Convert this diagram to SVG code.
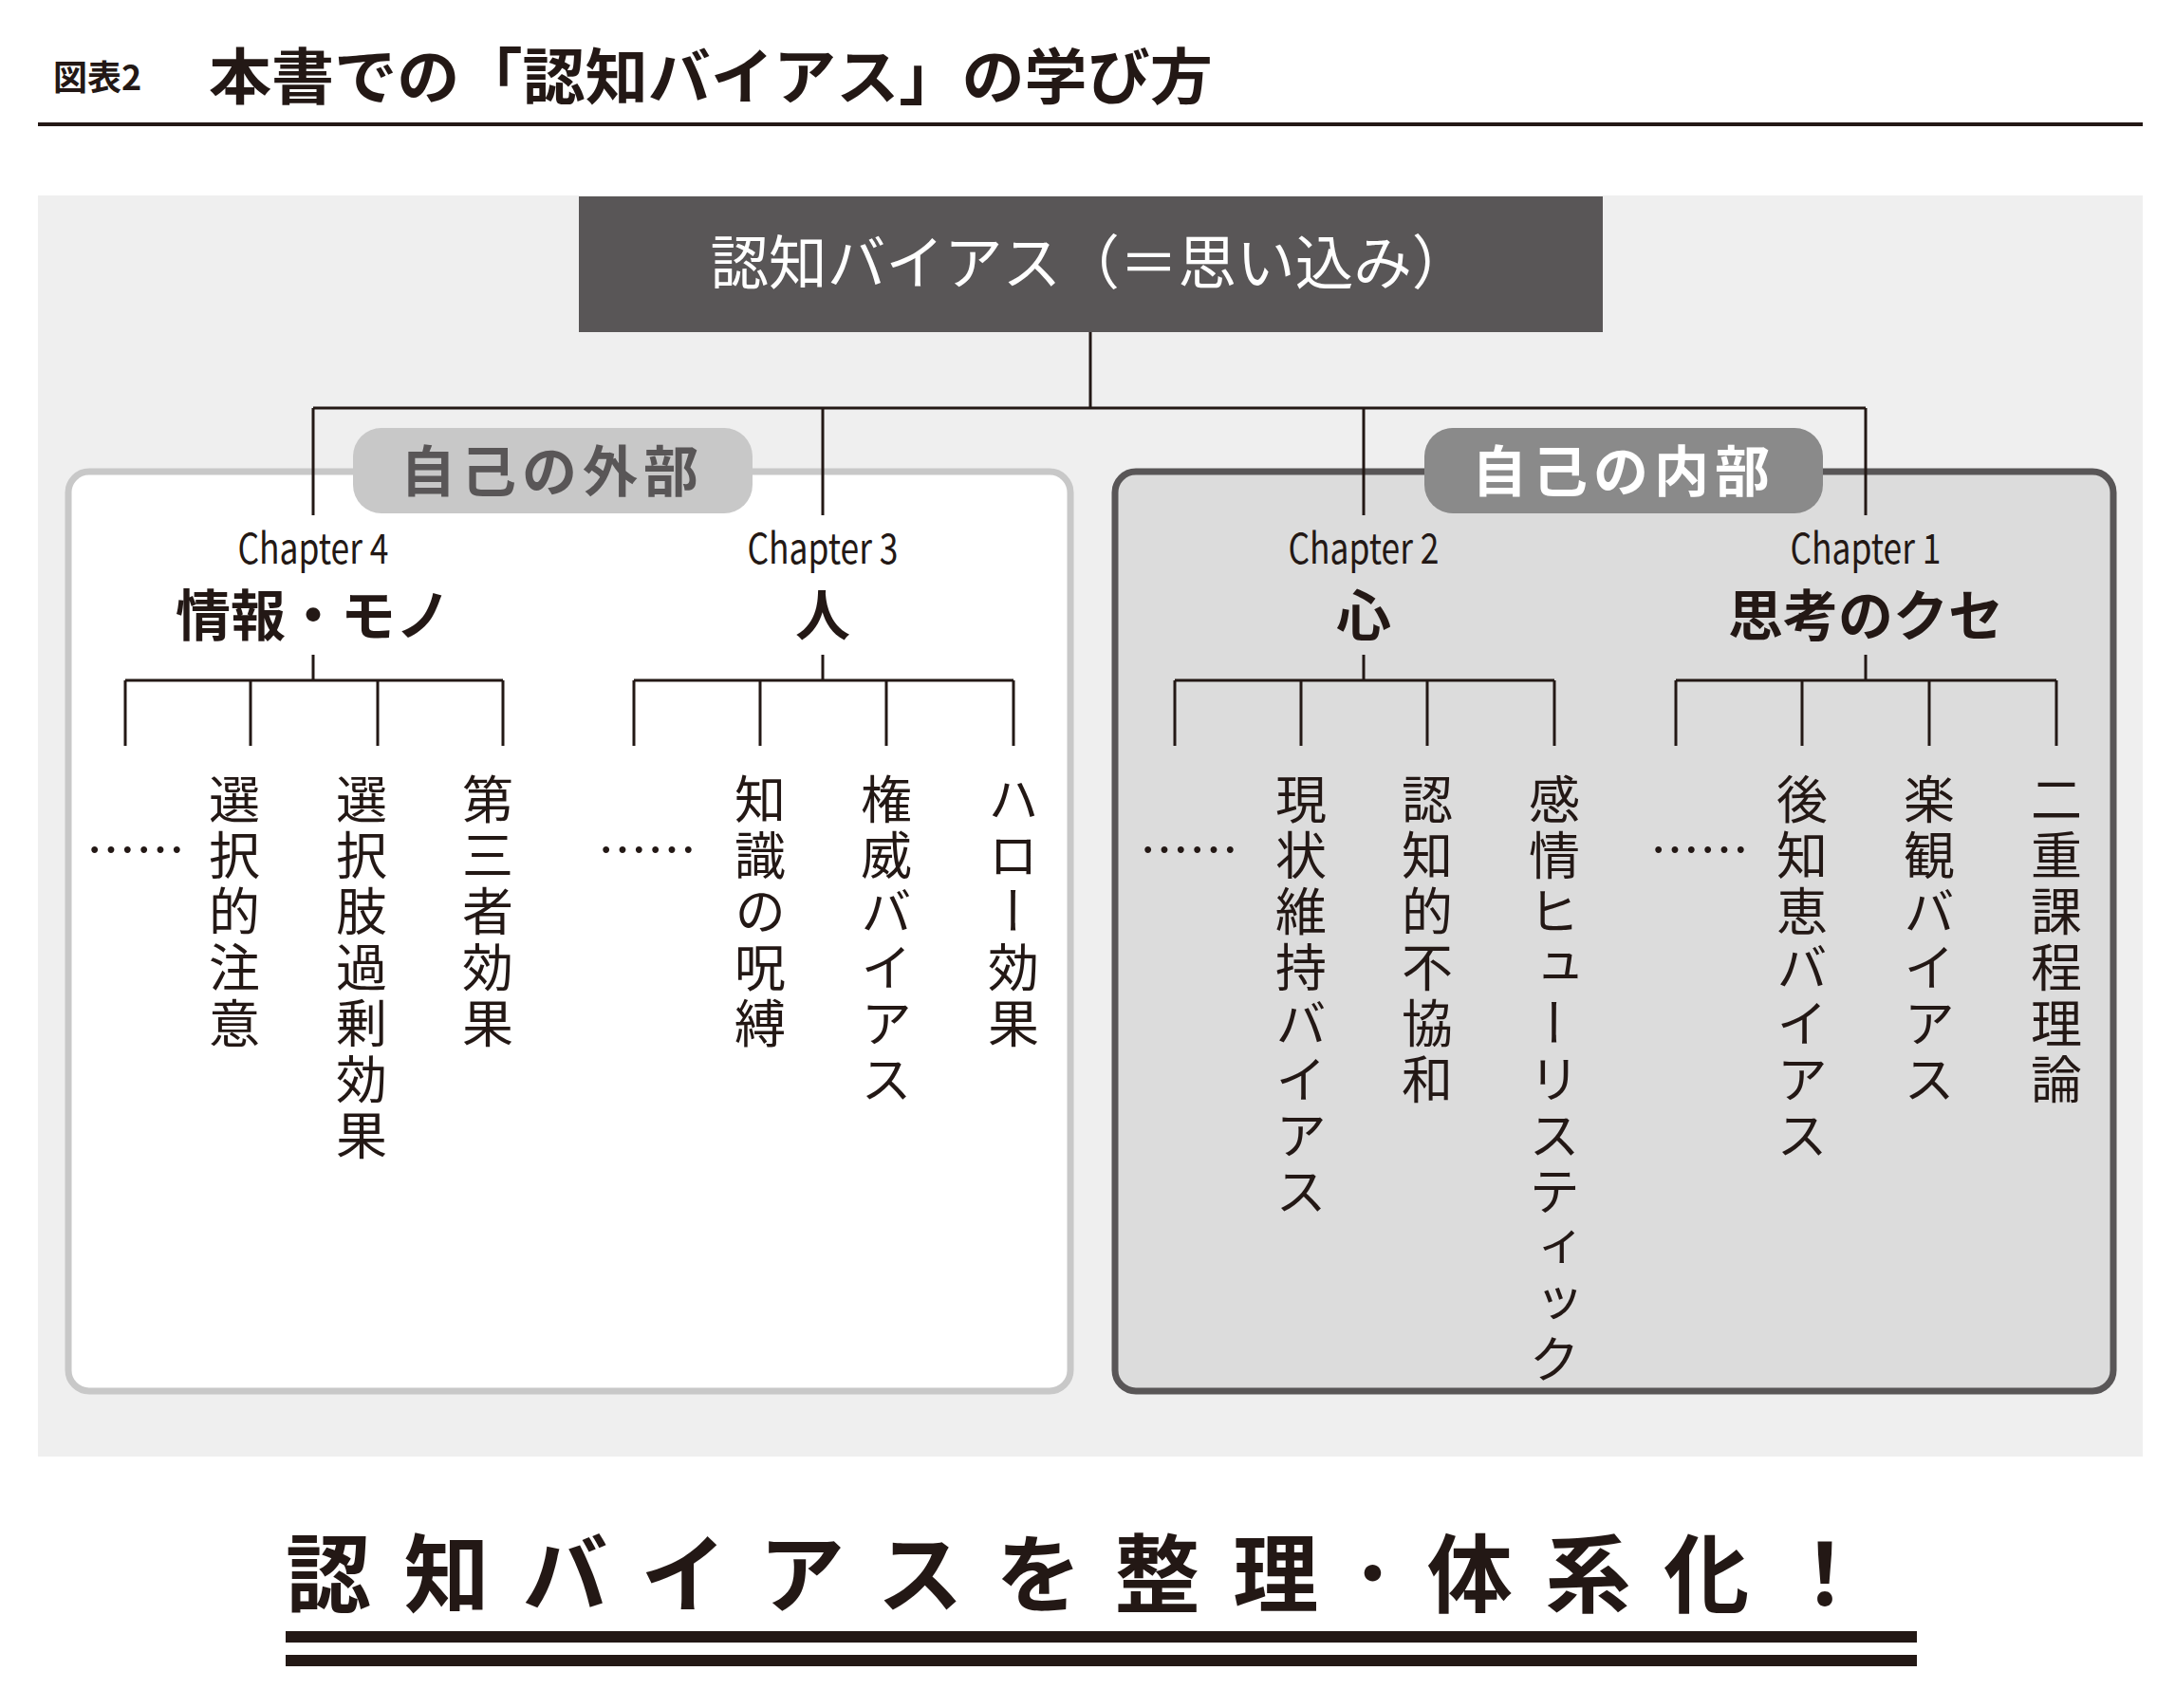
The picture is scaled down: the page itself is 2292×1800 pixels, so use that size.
<svg xmlns="http://www.w3.org/2000/svg" width="2292" height="1800" viewBox="0 0 2292 1800">
<style>
text{font-family:"Noto Sans CJK JP","Liberation Sans",sans-serif;fill:#231815}
.ln{stroke:#231815;stroke-width:3;fill:none}
.ch{font-size:44px;text-anchor:middle}
.cat{font-size:58px;font-weight:bold;text-anchor:middle}
.v{font-size:54px;writing-mode:vertical-rl;letter-spacing:5px}
.dots{font-size:52px;text-anchor:middle}
</style>
<rect width="2292" height="1800" fill="#fff"/>
<text x="56" y="95" font-size="36" font-weight="bold">図表2</text>
<text x="220" y="104" font-size="64" font-weight="bold" textLength="1058" lengthAdjust="spacingAndGlyphs">本書での「認知バイアス」の学び方</text>
<rect x="40" y="129" width="2218" height="4" fill="#231815"/>
<rect x="40" y="206" width="2218" height="1329" fill="#efefef"/>
<g id="root"><rect x="610" y="207" width="1079" height="143" fill="#595657"/>
<text x="1149" y="300" font-size="62" text-anchor="middle" style="fill:#fff" textLength="801" lengthAdjust="spacingAndGlyphs">認知バイアス（＝思い込み）</text></g>
<g id="outer"><rect x="72" y="497" width="1056" height="969" rx="22" fill="#fff" stroke="#c8c8c8" stroke-width="7"/>
<rect x="372" y="451" width="421" height="90" rx="30" fill="#c8c8c8"/>
<text x="582" y="518" font-size="58" font-weight="bold" text-anchor="middle" style="fill:#595657" letter-spacing="6">自己の外部</text></g>
<g id="inner"><rect x="1175" y="497" width="1052" height="969" rx="22" fill="#dcdcdc" stroke="#595657" stroke-width="7"/>
<rect x="1501" y="451" width="420" height="90" rx="30" fill="#8a8a8a"/>
<text x="1711" y="518" font-size="58" font-weight="bold" text-anchor="middle" style="fill:#fff" letter-spacing="6">自己の内部</text></g>
<g id="connectors">
<path class="ln" d="M1149 350V430M330 430H1966M330 430V543M867 430V543M1437 430V543M1966 430V543"/>
<path class="ln" d="M330 690V717M132 717H530M132 717V786M264 717V786M398 717V786M530 717V786"/>
<path class="ln" d="M867 690V717M668 717H1068M668 717V786M801 717V786M934 717V786M1068 717V786"/>
<path class="ln" d="M1437 690V717M1238 717H1638M1238 717V786M1371 717V786M1504 717V786M1638 717V786"/>
<path class="ln" d="M1966 690V717M1766 717H2167M1766 717V786M1899 717V786M2033 717V786M2167 717V786"/>
</g>
<g id="ch4"><text class="ch" x="330" y="594" textLength="159" lengthAdjust="spacingAndGlyphs">Chapter 4</text><text class="cat" x="330" y="670">情報・モノ</text>
<text class="dots" x="143" y="915">……</text>
<text class="v" x="247" y="815">選択的注意</text><text class="v" x="381" y="815">選択肢過剰効果</text><text class="v" x="514" y="815">第三者効果</text></g>
<g id="ch3"><text class="ch" x="867" y="594" textLength="159" lengthAdjust="spacingAndGlyphs">Chapter 3</text><text class="cat" x="867" y="670">人</text>
<text class="dots" x="682" y="915">……</text>
<text class="v" x="801" y="815">知識の呪縛</text><text class="v" x="934" y="815">権威バイアス</text><text class="v" x="1068" y="815">ハロー効果</text></g>
<g id="ch2"><text class="ch" x="1437" y="594" textLength="159" lengthAdjust="spacingAndGlyphs">Chapter 2</text><text class="cat" x="1437" y="670">心</text>
<text class="dots" x="1253" y="915">……</text>
<text class="v" x="1371" y="815">現状維持バイアス</text><text class="v" x="1504" y="815">認知的不協和</text><text class="v" x="1638" y="815">感情ヒューリスティック</text></g>
<g id="ch1"><text class="ch" x="1966" y="594" textLength="159" lengthAdjust="spacingAndGlyphs">Chapter 1</text><text class="cat" x="1966" y="670">思考のクセ</text>
<text class="dots" x="1791" y="915">……</text>
<text class="v" x="1899" y="815">後知恵バイアス</text><text class="v" x="2033" y="815">楽観バイアス</text><text class="v" x="2167" y="815">二重課程理論</text></g>
<text x="301" y="1692" font-size="90" font-weight="bold" textLength="1667" lengthAdjust="spacing">認知バイアスを整理･体系化！</text>
<rect x="301" y="1719" width="1719" height="12" fill="#231815"/>
<rect x="301" y="1744" width="1719" height="12" fill="#231815"/>
</svg>
